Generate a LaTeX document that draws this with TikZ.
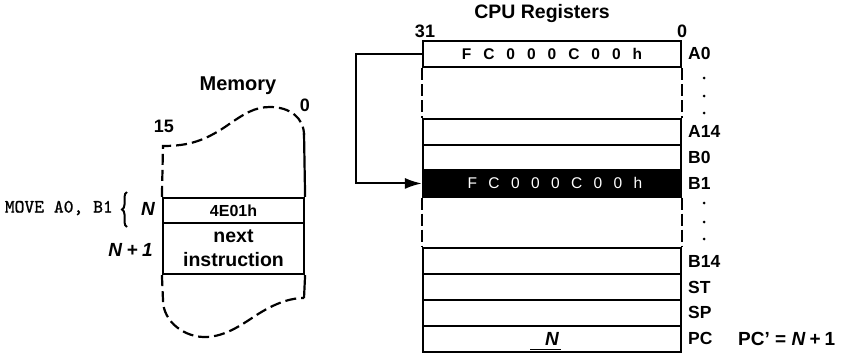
\documentclass[tikz,border=0pt]{standalone}
\usepackage{fontspec}
\setmainfont{Liberation Sans}
\newfontfamily\movefont{lmmono10-regular.otf}[FakeBold=1.2]
\usetikzlibrary{arrows.meta,decorations.pathreplacing}
\begin{document}
\begin{tikzpicture}[x=1pt,y=-1pt,
  reg/.style={draw, line width=2.2pt, minimum width=258pt, minimum height=25.9pt, inner sep=0pt, font=\fontsize{15.5}{18}\selectfont\bfseries},
  regblack/.style={reg, fill=black, text=white, font=\fontsize{15.5}{18}\selectfont},
  gap/.style={minimum width=258pt, minimum height=51.8pt, inner sep=0pt},
  memrow/.style={draw, line width=2.2pt, minimum width=141pt, inner sep=0pt, align=center},
  lab/.style={anchor=west, inner sep=0pt, font=\fontsize{17.5}{20}\selectfont\bfseries},
  title/.style={inner sep=0pt, font=\fontsize{19.5}{22}\selectfont\bfseries},
  bitno/.style={inner sep=0pt, font=\fontsize{18}{20}\selectfont\bfseries},
  dsh/.style={line width=2.2pt, dash pattern=on 12pt off 4pt},
  wave/.style={line width=2.2pt, dash pattern=on 11pt off 5pt},
  conn/.style={line width=2pt},
  dotm/.style={fill=black}
]
\path[use as bounding box] (0,0) rectangle (848,354);

% ---------- CPU registers ----------
\node[title] (cpu) at (542,13) {CPU Registers};
\node[bitno] (b31) at (425,31) {31};
\node[bitno] (b0) at (682,31) {0};

\newcommand{\gp}{\hspace{12pt}}
\newcommand{\gq}{\hspace{11.4pt}}
\node[reg] (a0) at (552,53.95) {F\gp C\gp 0\gp 0\gp 0\gp C\gp 0\gp 0\gp h\hspace{10pt}};
\node[gap] (g1) at (552,92.8) {};
\node[reg] (a14) at (552,131.65) {};
\node[reg] (bz) at (552,157.55) {};
\node[regblack] (b1) at (552,183.45) {\hspace{6pt}F\gq C\gq 0\gq 0\gq 0\gq C\gq 0\gq 0\gq h};
\node[gap] (g2) at (552,222.3) {};
\node[reg] (b14) at (552,261.15) {};
\node[reg] (st) at (552,287.05) {};
\node[reg] (sp) at (552,312.95) {};
\node[reg] (pc) at (552,338.85) {\fontsize{19}{20}\selectfont\bfseries\itshape N\hspace{8pt}};
\draw[line width=0.7pt] (530,349) -- (561,349);

\draw[dsh] (a0.south west) -- (a14.north west);
\draw[dsh] (a0.south east) -- (a14.north east);
\draw[dsh] (b1.south west) -- (b14.north west);
\draw[dsh] (b1.south east) -- (b14.north east);

\node[lab] (la0) at (688,53.95) {A0};
\node[lab] (la14) at (688,131.65) {A14};
\node[lab] (lb0) at (688,157.55) {B0};
\node[lab] (lb1) at (688,183.45) {B1};
\node[lab] (lb14) at (688,261.15) {B14};
\node[lab] (lst) at (688,287.05) {ST};
\node[lab] (lsp) at (688,312.95) {SP};
\node[lab] (lpc) at (688,338.85) {PC};
\node[lab, font=\fontsize{19}{20}\selectfont\bfseries] (pcp) at (738,338.85) {PC\textquoteright\ = \textit{N}\hspace{4pt}+\hspace{4pt}1};

\fill[dotm] (704,78) circle (1.5pt) (704,96) circle (1.5pt) (704,113) circle (1.5pt);
\fill[dotm] (704,203) circle (1.5pt) (704,222) circle (1.5pt) (704,239) circle (1.5pt);

\draw[conn, -{Latex[length=17pt,width=11pt]}] (a0.west) -- ++(-66,0) |- (b1.west);

% ---------- Memory ----------
\node[title, font=\fontsize{20}{22}\selectfont\bfseries] (mem) at (238,86) {Memory};
\node[bitno] (m15) at (164,126) {15};
\node[bitno] (m0) at (305,105) {0};

\node[memrow, minimum height=25pt, font=\fontsize{16}{18}\selectfont\bfseries] (m1) at (233.5,210.5) {4E01h};
\node[memrow, minimum height=51pt, font=\fontsize{19.5}{24}\selectfont\bfseries] (m2) at (233.5,248.5) {next\\instruction};

\draw[wave] (m1.north west) -- (163,146) .. controls (190,146) and (205,140) .. (225,127)
  .. controls (245,113) and (255,107) .. (270,107) .. controls (290,107) and (304,118) .. (304,135);
\draw[conn, line width=2.2pt] (304,133) -- (m1.north east);
\draw[wave] (m2.south west) -- (163,300) .. controls (163,322) and (185,338) .. (207,337)
  .. controls (225,336) and (240,326) .. (255,316) .. controls (272,305) and (288,298) .. (304,298);
\draw[conn, line width=2.2pt] (304,298) -- (m2.south east);

% ---------- left labels ----------
\node[inner sep=0pt, anchor=east, font=\fontsize{18.7}{20}\movefont] (mv) at (113,208) {MOVE A0, B1};
\draw[line width=2pt, decorate, decoration={brace, amplitude=5pt}] (127,227) -- (127,192);
\node[inner sep=0pt, font=\fontsize{19}{20}\selectfont\bfseries\itshape] (nn) at (148,209) {N};
\node[inner sep=0pt, anchor=east, font=\fontsize{19}{20}\selectfont\bfseries\itshape] (n1) at (153,250) {N\hspace{4.5pt}+\hspace{4.5pt}1};
\end{tikzpicture}
\end{document}
